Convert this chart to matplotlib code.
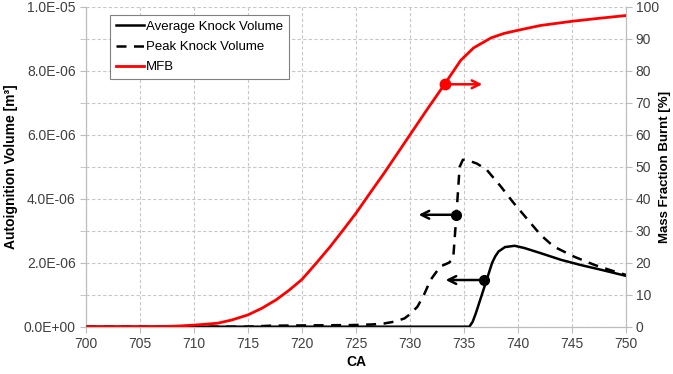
import matplotlib
matplotlib.use("Agg")
import matplotlib.pyplot as plt
from matplotlib.ticker import MultipleLocator, FuncFormatter

plt.rcParams['font.family'] = ['Liberation Sans', 'DejaVu Sans']

# MFB data (right axis, %)
mfb_ca = [700, 705, 707, 708.5, 710, 711, 712.2, 713.5, 715, 716.3, 717.6, 718.8, 720, 721.3, 722.6, 723.8, 725, 726.3, 727.6, 728.8, 730, 731.6, 733.2, 734.0, 734.7, 735.9, 737.5, 738.7, 740, 742.1, 745, 747.4, 750]
mfb_val = [0, 0, 0.05, 0.2, 0.5, 0.75, 1.1, 2.1, 3.7, 5.8, 8.4, 11.4, 14.8, 19.8, 25, 30.2, 35.5, 41.8, 48, 54, 60, 68, 75.8, 79.8, 83.3, 87.2, 90.3, 91.7, 92.7, 94.2, 95.5, 96.4, 97.3]

# Peak knock volume (m^3)
peak_ca = [700, 715, 717, 720, 724.5, 726.5, 727.6, 728.6, 729.5, 730.1, 730.7, 731.3, 731.9, 732.8, 733.6, 734.0, 734.3, 734.6, 734.9, 735.4, 736.2, 737.1, 738.4, 739.6, 740.9, 742.1, 743.3, 745.2, 747.1, 749.0, 750]
peak_val = [0, 0, 0.03e-6, 0.04e-6, 0.05e-6, 0.07e-6, 0.1e-6, 0.16e-6, 0.26e-6, 0.42e-6, 0.63e-6, 1.0e-6, 1.46e-6, 1.88e-6, 2.0e-6, 2.12e-6, 3.5e-6, 5.0e-6, 5.22e-6, 5.2e-6, 5.1e-6, 4.91e-6, 4.39e-6, 3.87e-6, 3.35e-6, 2.87e-6, 2.51e-6, 2.19e-6, 1.93e-6, 1.72e-6, 1.62e-6]

# Average knock volume (m^3)
avg_ca = [700, 735.5, 735.8, 736.1, 736.6, 737.1, 737.6, 737.9, 738.2, 738.8, 739.7, 740.6, 742.1, 744.0, 745.8, 747.7, 750]
avg_val = [0, 0, 0.15e-6, 0.42e-6, 0.94e-6, 1.46e-6, 1.99e-6, 2.2e-6, 2.35e-6, 2.49e-6, 2.53e-6, 2.46e-6, 2.30e-6, 2.09e-6, 1.93e-6, 1.78e-6, 1.59e-6]

# Annotation markers: (x, y, arrow end x)
red_mark = (733.2, 75.8, 736.7)
peak_mark = (734.3, 3.5e-6, 730.8)
avg_mark = (736.9, 1.46e-6, 733.3)

fig = plt.figure(figsize=(6.73, 3.74), dpi=100)
ax = fig.add_axes([0.128, 0.1265, 0.802, 0.855])
ax2 = ax.twinx()

gridc = '#c8c8c8'
ax.set_xlim(700, 750)
ax.set_ylim(0, 1e-5)
ax2.set_ylim(0, 100)
ax.xaxis.set_major_locator(MultipleLocator(5))
ax.yaxis.set_major_locator(MultipleLocator(2e-6))
ax.yaxis.set_minor_locator(MultipleLocator(1e-6))
ax.yaxis.set_major_formatter(FuncFormatter(lambda v, p: f"{v:.1E}"))
ax2.yaxis.set_major_locator(MultipleLocator(10))
ax.grid(True, which='both', axis='y', linestyle=(0, (3, 2)), color=gridc, linewidth=0.8)
ax.grid(True, which='major', axis='x', linestyle=(0, (3, 2)), color=gridc, linewidth=0.8)
ax.set_axisbelow(True)

for a in (ax, ax2):
    for s in a.spines.values():
        s.set_color('#bdbdbd')
    a.spines['top'].set_visible(False)
    a.tick_params(colors='#bdbdbd', labelcolor='#404040', labelsize=10, length=4)
ax.tick_params(axis='y', which='minor', colors='#bdbdbd', length=4)
ax2.tick_params(axis='y', pad=3)

l1, = ax.plot(avg_ca, avg_val, color='black', lw=1.8, label='Average Knock Volume', zorder=3,
              solid_joinstyle='round')
l2, = ax.plot(peak_ca, peak_val, color='black', lw=1.8, ls=(0, (4, 3)), label='Peak Knock Volume', zorder=3)
l3, = ax2.plot(mfb_ca, mfb_val, color='red', lw=2.0, label='MFB', zorder=3, solid_joinstyle='round')

# markers and arrows
for axx, (mx, my, ex), col, ms in ((ax, peak_mark, 'black', 7), (ax, avg_mark, 'black', 7), (ax2, red_mark, 'red', 7.5)):
    axx.plot([mx], [my], 'o', color=col, markersize=ms, zorder=5)
    axx.annotate('', xy=(ex, my), xytext=(mx, my),
                 arrowprops=dict(arrowstyle='->', color=col, lw=1.8, mutation_scale=14,
                                 shrinkA=0, shrinkB=0), zorder=5)

ax.set_xlabel('CA', fontsize=10, fontweight='bold', labelpad=3)
ax.set_ylabel('Autoignition Volume [m³]', fontsize=10, fontweight='bold', labelpad=4)
ax2.set_ylabel('Mass Fraction Burnt [%]', fontsize=9.5, fontweight='bold', labelpad=0)

ax2.set_zorder(ax.get_zorder() + 1)
ax2.patch.set_visible(False)
leg = ax2.legend(handles=[l1, l2, l3], loc='upper left', bbox_to_anchor=(0.044, 0.975),
                 fontsize=9.5, frameon=True, fancybox=False, handlelength=2.1,
                 handletextpad=0.15, borderpad=0.45, labelspacing=0.6, borderaxespad=0, framealpha=1)
leg.get_frame().set_edgecolor('#808080')
leg.get_frame().set_linewidth(0.8)

fig.savefig('out.png', dpi=100)
